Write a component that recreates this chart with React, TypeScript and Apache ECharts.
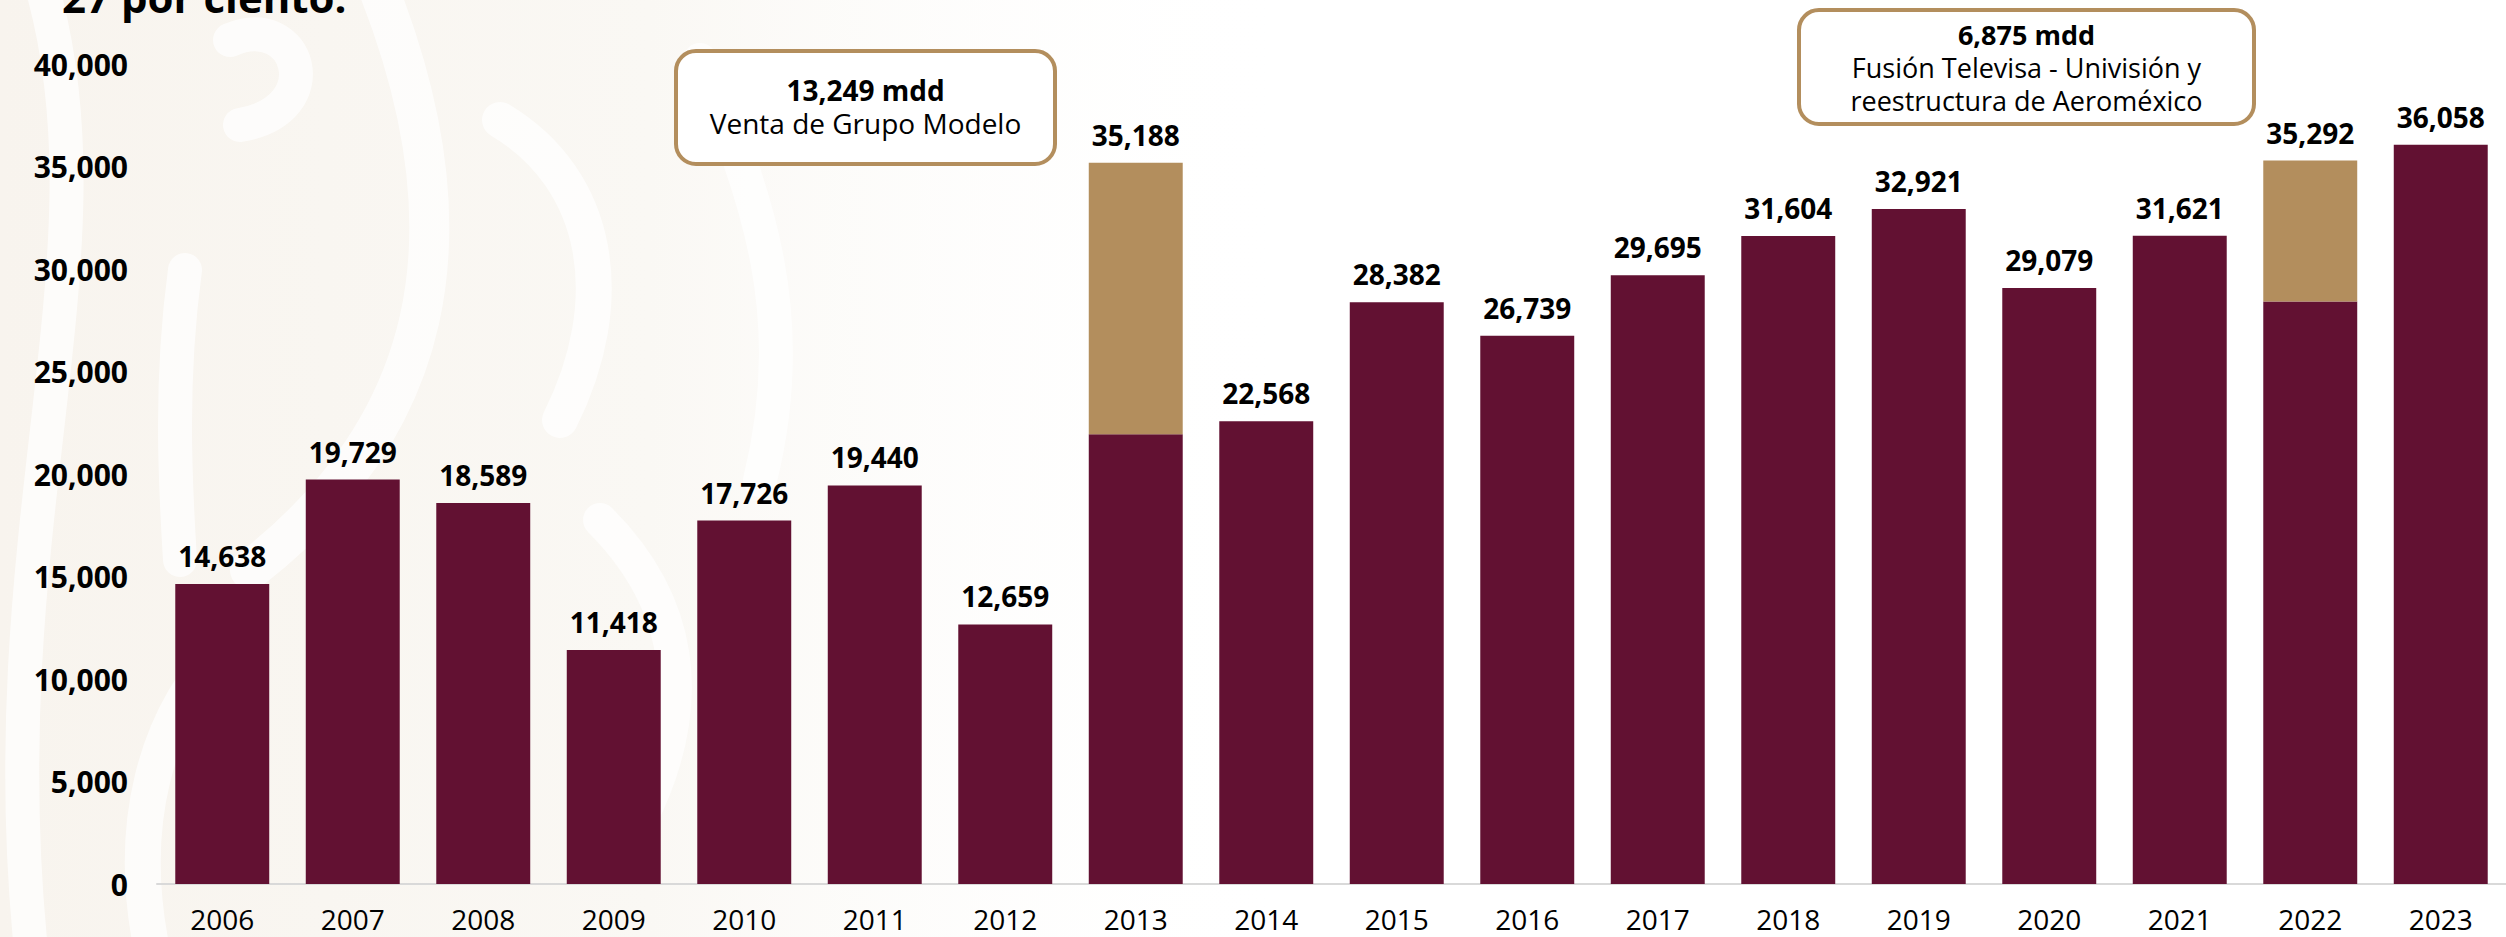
import React, { useEffect, useRef } from "react";
import * as echarts from "echarts";

const years = ["2006","2007","2008","2009","2010","2011","2012","2013","2014","2015","2016","2017","2018","2019","2020","2021","2022","2023"];
const totals = [14638, 19729, 18589, 11418, 17726, 19440, 12659, 35188, 22568, 28382, 26739, 29695, 31604, 32921, 29079, 31621, 35292, 36058];
const extraordinary = [0, 0, 0, 0, 0, 0, 0, 13249, 0, 0, 0, 0, 0, 0, 0, 0, 6875, 0];
const yTicks = { min: 0, max: 40000, interval: 5000 };
const note1 = ["13,249 mdd", "Venta de Grupo Modelo"];
const note2 = ["6,875 mdd", "Fusión Televisa - Univisión y", "reestructura de Aeroméxico"];
const titleFragment = "27 por ciento.";

const MAROON = "#621132";
const GOLD = "#B38E5D";
const FONT = '"Open Sans", "Noto Sans", sans-serif';

const fmt = (v: number) => v.toLocaleString("en-US");

export default function App() {
  const ref = useRef<HTMLDivElement>(null);
  useEffect(() => {
    if (!ref.current) return;
    const chart = echarts.init(ref.current, undefined, { renderer: "svg" });

    const base = totals.map((t, i) => t - extraordinary[i]);
    const baseData = base.map((v, i) =>
      extraordinary[i] > 0 ? { value: v, label: { show: false } } : { value: v }
    );
    const extraData = extraordinary.map((v, i) =>
      v > 0 ? { value: v, total: totals[i] } : { value: null }
    );

    const labelStyle = {
      show: true,
      position: "top" as const,
      distance: 14,
      color: "#000",
      fontFamily: FONT,
      fontWeight: 700 as const,
      fontSize: 28,
    };

    const curve = (x1: number, y1: number, cpx1: number, cpy1: number, cpx2: number, cpy2: number, x2: number, y2: number, w: number) => ({
      type: "bezierCurve",
      z: -9,
      silent: true,
      shape: { x1, y1, cpx1, cpy1, cpx2, cpy2, x2, y2 },
      style: { stroke: "#ffffff", lineWidth: w, fill: null, lineCap: "round", opacity: 0.7 },
    });

    const bg = [
      {
        type: "rect",
        z: -10,
        silent: true,
        shape: { x: 0, y: 0, width: 1300, height: 937 },
        style: {
          fill: new echarts.graphic.LinearGradient(0, 0, 1, 0, [
            { offset: 0, color: "#f8f4ee" },
            { offset: 0.5, color: "#faf8f4" },
            { offset: 1, color: "rgba(255,255,255,0)" },
          ]),
        },
      },
      curve(40, -20, 120, 250, -10, 520, 30, 940, 34),
      curve(375, -20, 480, 240, 430, 430, 250, 570, 40),
      curve(230, 40, 300, 10, 330, 110, 240, 125, 34),
      curve(185, 270, 170, 380, 175, 480, 180, 560, 34),
      curve(500, 120, 600, 180, 620, 300, 560, 420, 36),
      curve(700, 60, 760, 200, 800, 320, 760, 480, 34),
      curve(230, 640, 150, 720, 130, 830, 150, 940, 36),
      curve(600, 520, 680, 600, 700, 700, 640, 820, 34),
    ];

    const txt = (x: number, y: number, text: string, weight: number, size: number) => ({
      type: "text",
      z: 6,
      x,
      y,
      style: { text, fill: "#000", font: `${weight} ${size}px ${FONT}`, align: "center", verticalAlign: "middle" },
    });

    const boxes = [
      {
        type: "rect",
        z: 5,
        shape: { x: 676, y: 51, width: 379, height: 113, r: 20 },
        style: { fill: "#ffffff", stroke: GOLD, lineWidth: 4 },
      },
      txt(865.5, 90, note1[0], 700, 28),
      txt(865.5, 123, note1[1], 400, 28),
      {
        type: "rect",
        z: 5,
        shape: { x: 1799, y: 10, width: 455, height: 114, r: 20 },
        style: { fill: "#ffffff", stroke: GOLD, lineWidth: 4 },
      },
      txt(2026.5, 34, note2[0], 700, 27),
      txt(2026.5, 67, note2[1], 400, 27),
      txt(2026.5, 100, note2[2], 400, 27),
      {
        type: "text",
        z: 6,
        x: 62,
        y: -4,
        style: { text: titleFragment, fill: "#000", font: `700 42px ${FONT}`, align: "left", verticalAlign: "middle" },
      },
    ];

    chart.setOption({
      animation: false,
      backgroundColor: "#ffffff",
      grid: { left: 157, right: 0, top: 64, bottom: 53, containLabel: false },
      xAxis: {
        type: "category",
        data: years,
        axisLine: { show: true, lineStyle: { color: "#d9d9d9", width: 2 } },
        axisTick: { show: false },
        axisLabel: { color: "#000", fontFamily: FONT, fontSize: 28, fontWeight: 400, margin: 21 },
      },
      yAxis: {
        type: "value",
        min: yTicks.min,
        max: yTicks.max,
        interval: yTicks.interval,
        axisLine: { show: false },
        axisTick: { show: false },
        splitLine: { show: false },
        axisLabel: {
          color: "#000",
          fontFamily: FONT,
          fontSize: 30,
          fontWeight: 700,
          margin: 29,
          formatter: (v: number) => fmt(v),
        },
      },
      series: [
        {
          type: "bar",
          name: "base",
          stack: "total",
          data: baseData,
          barCategoryGap: "28%",
          itemStyle: { color: MAROON },
          label: { ...labelStyle, formatter: (p: any) => fmt(p.value) },
        },
        {
          type: "bar",
          name: "extra",
          stack: "total",
          data: extraData,
          barCategoryGap: "28%",
          itemStyle: { color: GOLD },
          label: { ...labelStyle, formatter: (p: any) => fmt(p.data.total) },
        },
      ],
      graphic: { elements: [...bg, ...boxes] },
    });

    return () => chart.dispose();
  }, []);

  return (
    <div
      ref={ref}
      style={{ position: "absolute", left: 0, top: 0, width: "2506px", height: "937px" }}
    />
  );
}
